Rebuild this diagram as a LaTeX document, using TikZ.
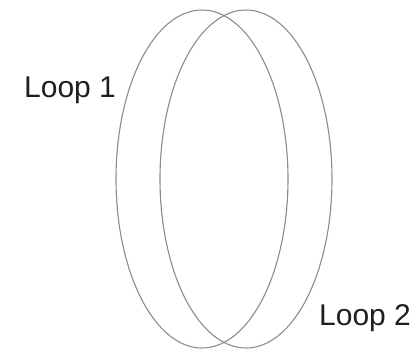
\documentclass[tikz,border=0pt]{standalone}
\usepackage{fontspec}
\setmainfont{Liberation Sans}
\usetikzlibrary{shapes.geometric}
\begin{document}
\begin{tikzpicture}[x=1bp,y=-1bp,
  loopshape/.style={draw=black!45, line width=1.1bp, ellipse, inner sep=0pt, outer sep=0pt,
    minimum width=172bp, minimum height=338bp},
  looplabel/.style={anchor=base west, inner sep=0pt, text=black!88,
    font=\fontsize{30bp}{30bp}\selectfont}]
\useasboundingbox (0,0) rectangle (416,352);
\node[loopshape] (l1) at (202,179) {};
\node[loopshape] (l2) at (246,179) {};
\node[looplabel] (t1) at (24,97) {Loop 1};
\node[looplabel] (t2) at (319,325) {Loop 2};
\end{tikzpicture}
\end{document}
